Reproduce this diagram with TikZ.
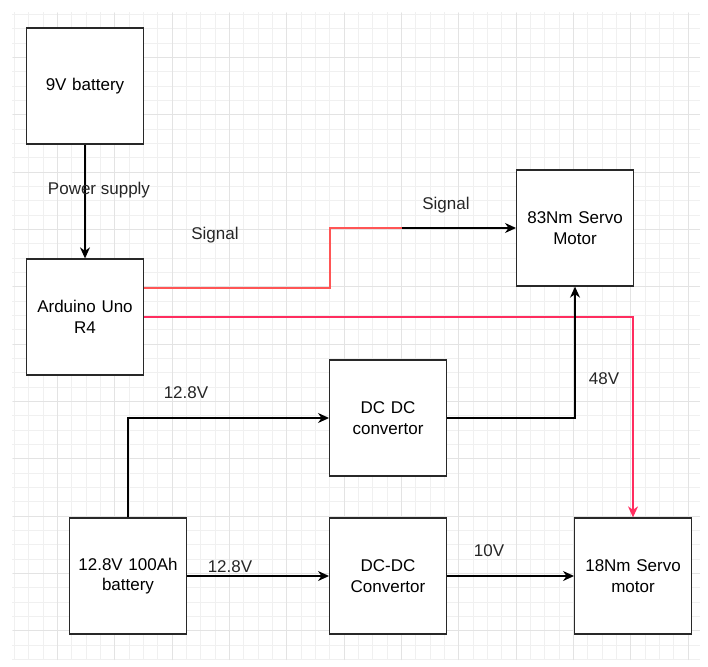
\documentclass[tikz,border=0pt]{standalone}
\usepackage{fontspec}
\setmainfont{Liberation Sans}
\usepackage{tikz}
\usetikzlibrary{shapes, arrows.meta, positioning, calc}
\definecolor{sigred}{RGB}{255,85,85}
\definecolor{sigpink}{RGB}{255,45,95}
\definecolor{boxline}{RGB}{40,40,40}
\tikzset{
    block/.style={
        rectangle, draw=boxline, fill=white, line width=1.3pt,
        minimum width=116pt, minimum height=116pt,
        text width=110pt, align=center,
        font=\fontsize{17}{20.5}\selectfont
    },
    lbl/.style={font=\fontsize{17}{20.5}\selectfont, text=black!85},
    line/.style={draw, line width=1.3pt, -{Stealth[length=11pt,width=10pt,inset=3.5pt]}},
    signal/.style={draw=sigred, line width=1.3pt},
    signaltwo/.style={draw=sigpink, line width=1.3pt, -{Stealth[length=11pt,width=10pt,inset=3.5pt]}}
}
\begin{document}
\begin{tikzpicture}[x=1pt, y=-1pt]
        \useasboundingbox (0,0) rectangle (708,666);
        % Grid
        \draw[black!6, line width=0.6pt] (12,12) grid[step=14.33pt] (700,660);
        \draw[black!11, line width=0.7pt] (13,13) grid[step=57.33pt] (700,660);

        % Nodes
        \node [block] (nine) at (85,86) {9V battery};
        \node [block] (ard) at (85,317) {Arduino Uno\\R4};
        \node [block] (big) at (575,228) {83Nm Servo\\Motor};
        \node [block] (conva) at (388,418) {DC DC\\convertor};
        \node [block] (bat) at (128,576) {12.8V 100Ah\\battery};
        \node [block] (convb) at (388,576) {DC-DC\\Convertor};
        \node [block] (small) at (633,576) {18Nm Servo\\motor};
        \coordinate (sigmid) at (402,228);

        % Edges
        \draw [line] (nine) -- (ard);
        \draw [signal] ([yshift=29pt]ard.east) -- (330,288) -- (330,228) -- (sigmid);
        \draw [line] (sigmid) -- (big.west);
        \draw [signaltwo] (ard.east) -| (small.north);
        \draw [line] (conva.east) -| (big.south);
        \draw [line] (bat.north) |- (conva.west);
        \draw [line] (bat.east) -- (convb.west);
        \draw [line] (convb.east) -- (small.west);

        % Labels
        \node [lbl] (lpower) at (99,190) {Power supply};
        \node [lbl] (lsiga) at (215,235) {Signal};
        \node [lbl] (lsigb) at (446,205) {Signal};
        \node [lbl] (lvolta) at (186,393) {12.8V};
        \node [lbl] (lvoltb) at (230,567) {12.8V};
        \node [lbl] (lten) at (489,551) {10V};
        \node [lbl] (lfortyeight) at (604,379) {48V};
    \end{tikzpicture}
\end{document}
